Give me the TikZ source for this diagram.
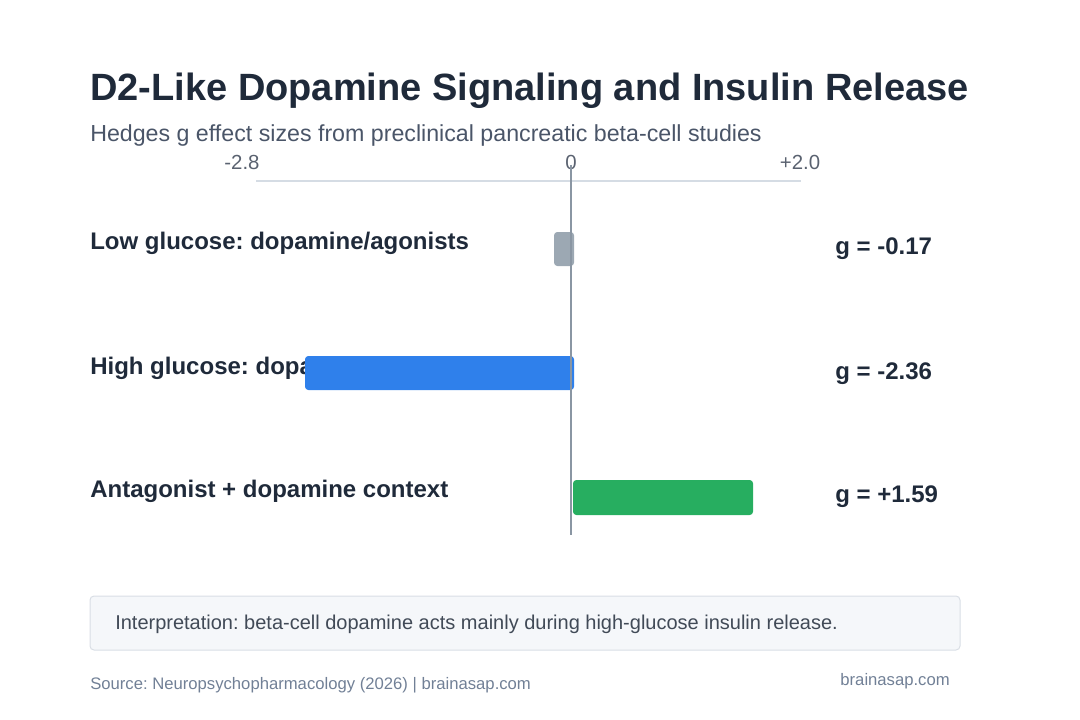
\documentclass[tikz,border=0pt]{standalone}
\usepackage{fontspec}
\setmainfont{Liberation Sans}
\frenchspacing
\definecolor{ink}{HTML}{1F2A3A}
\definecolor{sub}{HTML}{4A5568}
\definecolor{tick}{HTML}{5A6270}
\definecolor{axis}{HTML}{D5DCE4}
\definecolor{zero}{HTML}{8A96A3}
\definecolor{bgray}{HTML}{9CA8B3}
\definecolor{bblue}{HTML}{2F80EB}
\definecolor{bgreen}{HTML}{27AE60}
\definecolor{boxfill}{HTML}{F5F7FA}
\definecolor{boxline}{HTML}{D9DEE5}
\definecolor{foot}{HTML}{718096}
\begin{document}
\begin{tikzpicture}[x=0.75pt,y=-0.75pt,
  rowlabel/.style={anchor=west,font=\fontsize{18}{21}\selectfont\bfseries,text=ink,inner sep=0},
  glabel/.style={anchor=west,font=\fontsize{18}{21}\selectfont\bfseries,text=ink,inner sep=0},
  ticklabel/.style={font=\fontsize{15.3}{18}\selectfont,text=tick,inner sep=0},
  bar/.style={rounded corners=2.5pt,draw=none}]
\useasboundingbox (0,0) rectangle (1080,720);
\node[anchor=west,inner sep=0,font=\fontsize{28.5}{32}\selectfont\bfseries,text=ink] (title) at (90,91) {D2-Like Dopamine Signaling and Insulin Release};
\node[anchor=west,inner sep=0,font=\fontsize{17.4}{20}\selectfont,text=sub] (subt) at (90,136) {Hedges g effect sizes from preclinical pancreatic beta-cell studies};
\node[ticklabel] (t1) at (242,162) {-2.8};
\node[ticklabel] (t2) at (571,162) {0};
\node[ticklabel] (t3) at (800,162) {+2.0};
\draw[axis,line width=1.5pt] (256,181) -- (801,181);
\node[rowlabel] (l1) at (90,243) {Low glucose: dopamine/agonists};
\node[rowlabel] (l2) at (90,368) {High glucose: dopamine/agonists};
\node[rowlabel] (l3) at (90,491) {Antagonist + dopamine context};
\fill[bar,bgray] (554,232) rectangle (574,266);
\fill[bar,bblue] (305,356) rectangle (574,390);
\fill[bar,bgreen] (573,480) rectangle (753,515);
\draw[zero,line width=1.8pt] (571,165) -- (571,535);
\node[glabel] (g1) at (835,249) {g = -0.17};
\node[glabel] (g2) at (835,374) {g = -2.36};
\node[glabel] (g3) at (835,497) {g = +1.59};
\draw[boxline,fill=boxfill,rounded corners=3pt,line width=0.75pt] (90,596) rectangle (960,650);
\node[anchor=west,inner sep=0,font=\fontsize{15}{18}\selectfont,text=ink!85] (interp) at (115,624) {Interpretation: beta-cell dopamine acts mainly during high-glucose insulin release.};
\node[anchor=west,inner sep=0,font=\fontsize{12.5}{15}\selectfont,text=foot] (src) at (90,685) {Source: Neuropsychopharmacology (2026) | brainasap.com};
\node[anchor=east,inner sep=0,font=\fontsize{12.5}{15}\selectfont,text=foot] (brand) at (950,681) {brainasap.com};
\end{tikzpicture}
\end{document}
